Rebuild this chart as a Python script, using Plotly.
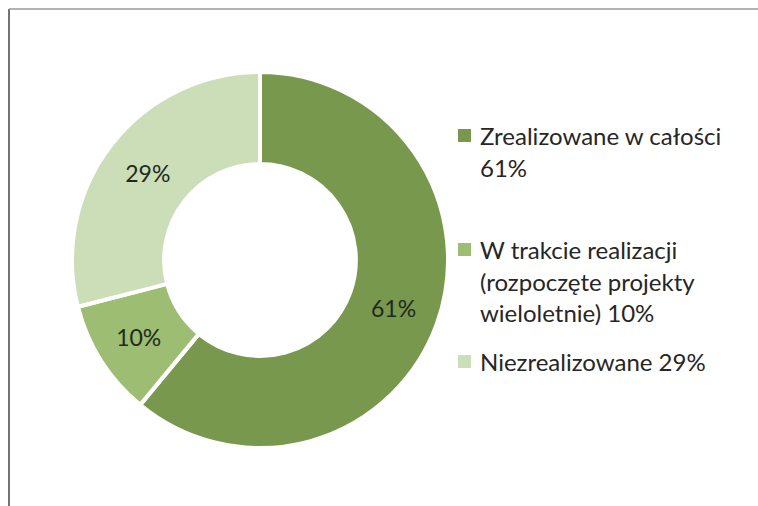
import plotly.graph_objects as go

categories = ["Zrealizowane w całości", "W trakcie realizacji (rozpoczęte projekty wieloletnie)", "Niezrealizowane"]
values = [61, 10, 29]
colors = ["#78984d", "#9dbd72", "#cbdeb8"]
legend_lines = [
    ["Zrealizowane w całości", "61%"],
    ["W trakcie realizacji", "(rozpoczęte projekty", "wieloletnie) 10%"],
    ["Niezrealizowane 29%"],
]

W, H = 758, 506
FONT = "Lato"

fig = go.Figure(go.Pie(
    labels=categories,
    values=values,
    sort=False,
    direction="clockwise",
    rotation=0,
    hole=0.51,
    marker=dict(colors=colors, line=dict(color="white", width=4)),
    textinfo="percent",
    textposition="inside",
    insidetextorientation="horizontal",
    textfont=dict(family=FONT, size=23, color="#1e2a1e"),
    domain=dict(x=[72 / W, 448 / W], y=[1 - 448 / H, 1 - 72 / H]),
    showlegend=False,
))

# legend drawn as annotations + squares
item_y = [[135, 167], [249, 281, 312], [361]]
annotations = []
shapes = []
for lines, ys, col in zip(legend_lines, item_y, colors):
    sq = ys[0]
    shapes.append(dict(type="rect", xref="paper", yref="paper",
                       x0=458 / W, x1=471 / W, y0=1 - (sq + 7) / H, y1=1 - (sq - 6) / H,
                       fillcolor=col, line=dict(width=0)))
    for t, y in zip(lines, ys):
        annotations.append(dict(text=t, xref="paper", yref="paper", x=478 / W, y=1 - y / H,
                                xanchor="left", yanchor="middle", showarrow=False,
                                font=dict(family=FONT, size=24, color="#262626")))

# frame lines
shapes.append(dict(type="line", xref="paper", yref="paper", x0=9 / W, x1=9 / W, y0=0, y1=1 - 9 / H,
                   line=dict(color="#444444", width=1.5)))
shapes.append(dict(type="line", xref="paper", yref="paper", x0=9 / W, x1=1, y0=1 - 9 / H, y1=1 - 9 / H,
                   line=dict(color="#999999", width=1.5)))

fig.update_layout(
    width=W, height=H,
    margin=dict(l=0, r=0, t=0, b=0),
    paper_bgcolor="white", plot_bgcolor="white",
    annotations=annotations, shapes=shapes,
)
fig.write_html("out.html", config={"displayModeBar": False},
               post_script="document.body.style.margin='0';")
